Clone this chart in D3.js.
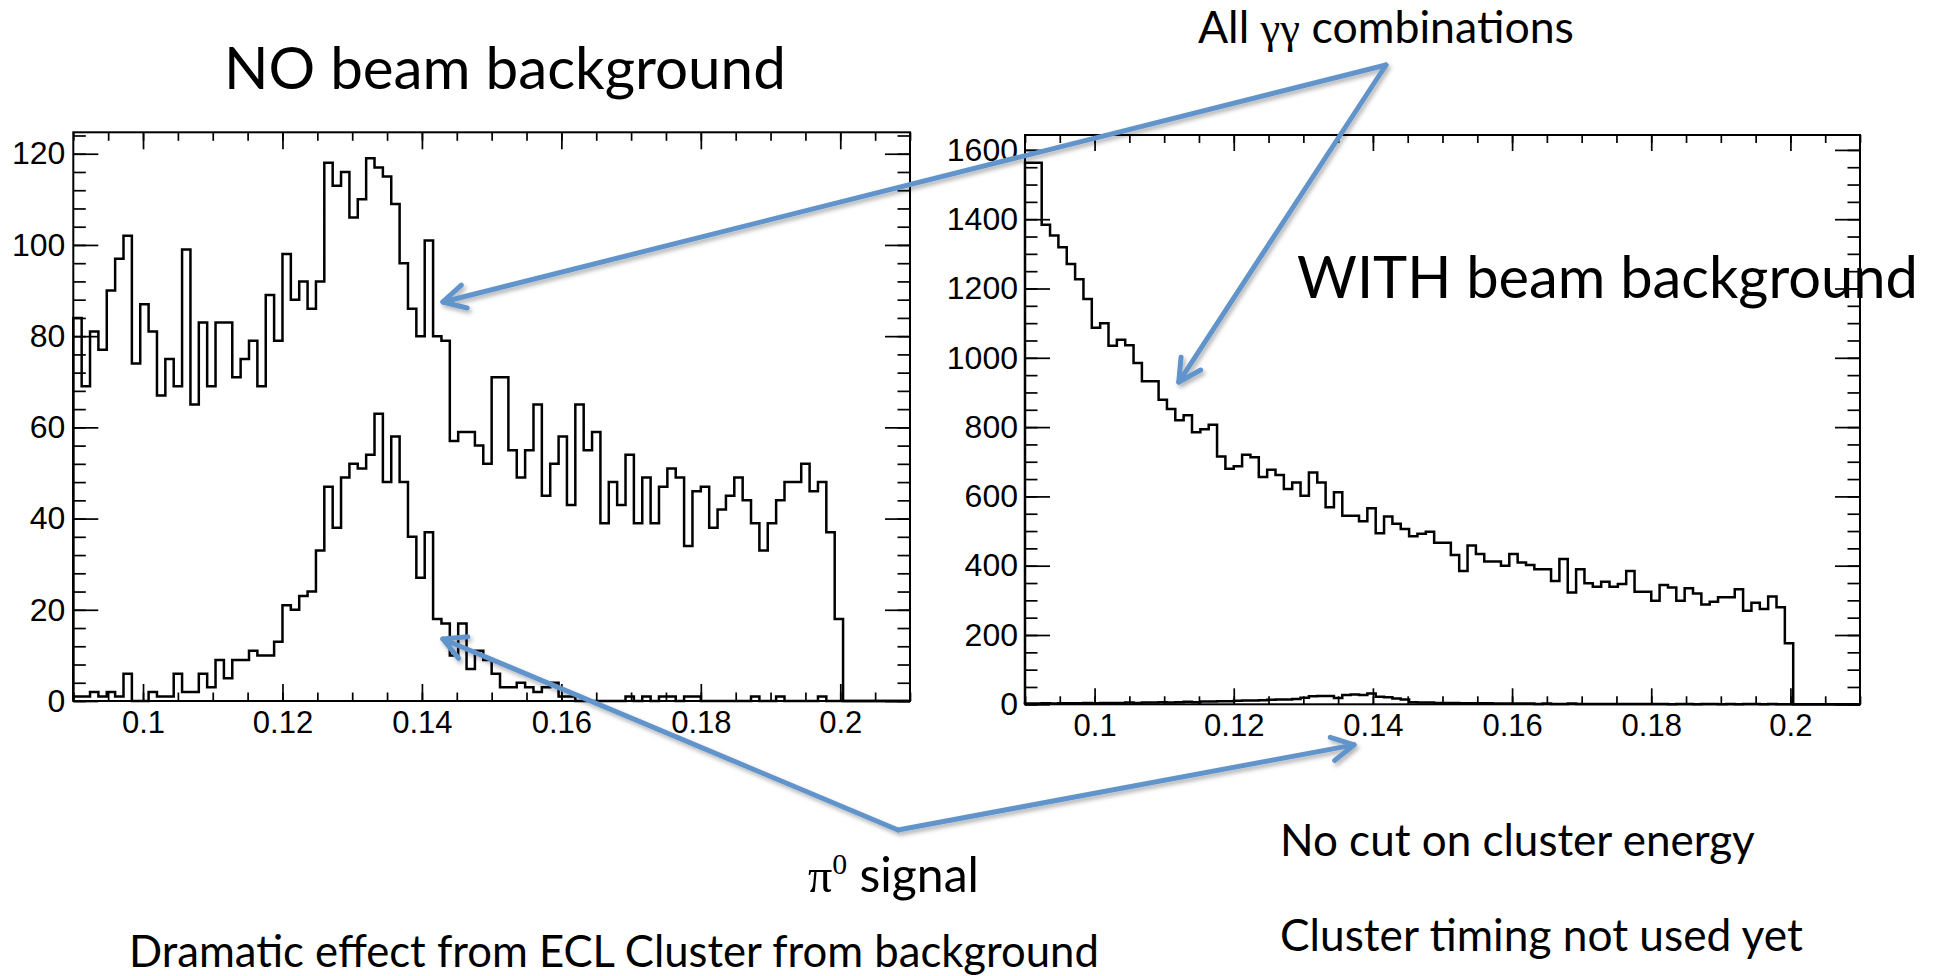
<!DOCTYPE html>
<html>
<head>
<meta charset="utf-8">
<script src="https://cdn.jsdelivr.net/npm/d3@7"></script>
<style>
  html, body { margin: 0; padding: 0; background: #fff; }
  svg { display: block; }
</style>
</head>
<body>
<svg id="chart" width="1943" height="976"></svg>
<script>
// histogram binning: 100 bins over 0.09 - 0.21 (only the first 92 are filled)
var histLow = 0.09;
var histHigh = 0.21;
var nBins = 100;

// NO beam background, all gamma-gamma combinations
var noBgAll = [84, 69, 81, 77, 90, 97, 102, 74, 87, 81,
    67, 75, 69, 99, 65, 83, 69, 83, 83, 71,
    75, 79, 69, 89, 79, 98, 88, 92, 86, 92,
    118, 113, 116, 106, 110, 119, 117, 115, 109, 96,
    86, 80, 101, 80, 79, 57, 59, 59, 56, 52,
    71, 71, 55, 49, 55, 65, 45, 52, 58, 43,
    65, 55, 59, 39, 48, 43, 54, 39, 49, 39,
    47, 51, 49, 34, 46, 47, 38, 42, 45, 49,
    44, 39, 33, 39, 44, 48, 48, 52, 46, 48,
    37, 18];
// NO beam background, pi0 signal
var noBgSignal = [1, 1, 2, 1, 2, 1, 6, 0, 0, 2,
    1, 1, 6, 2, 2, 6, 3, 9, 5, 9,
    9, 11, 10, 10, 13, 21, 20, 23, 24, 33,
    47, 38, 49, 52, 51, 54, 63, 48, 58, 48,
    36, 27, 37, 18, 17, 10, 17, 7, 11, 9,
    6, 3, 3, 4, 3, 2, 3, 4, 1, 1,
    0, 0, 0, 0, 0, 0, 1, 0, 1, 0,
    1, 1, 0, 1, 1, 0, 0, 0, 0, 0,
    0, 1, 0, 0, 1, 0, 0, 0, 0, 1,
    0, 0];
// WITH beam background, all gamma-gamma combinations
var withBgAll = [1563, 1563, 1384, 1353, 1319, 1271, 1227, 1170, 1087, 1100,
    1035, 1052, 1036, 985, 932, 932, 879, 852, 820, 834,
    785, 794, 807, 715, 680, 687, 720, 713, 656, 677,
    662, 621, 640, 602, 669, 640, 569, 612, 544, 544,
    528, 566, 494, 542, 521, 506, 485, 492, 498, 466,
    466, 431, 385, 458, 434, 412, 412, 400, 434, 409,
    402, 390, 390, 356, 419, 323, 390, 349, 339, 354,
    339, 347, 385, 325, 325, 299, 344, 337, 299, 335,
    320, 288, 296, 309, 309, 332, 270, 293, 275, 311,
    280, 176];
// WITH beam background, pi0 signal
var withBgSignal = [2, 2, 3, 2, 3, 3, 3, 4, 3, 4,
    4, 4, 5, 4, 5, 5, 6, 5, 6, 7,
    6, 8, 8, 9, 9, 10, 11, 11, 12, 13,
    14, 14, 15, 19, 23, 24, 24, 18, 27, 28,
    27, 31, 22, 20, 17, 14, 6, 5, 5, 4,
    4, 4, 3, 3, 3, 3, 2, 2, 2, 2,
    2, 1, 2, 1, 1, 2, 1, 1, 1, 1,
    1, 1, 1, 1, 1, 1, 1, 0, 1, 1,
    0, 1, 1, 0, 1, 0, 1, 1, 0, 1,
    0, 0];

var xTickValues = [0.1, 0.12, 0.14, 0.16, 0.18, 0.2];
var leftYTicks = [0, 20, 40, 60, 80, 100, 120];
var rightYTicks = [0, 200, 400, 600, 800, 1000, 1200, 1400, 1600];

var svg = d3.select('#chart');
var arrowColor = '#6294cc';
var tickFont = '"Liberation Sans", Arial, Helvetica, sans-serif';
var textFont = 'Lato, "Open Sans", sans-serif';
var greekFont = '"Liberation Serif", "DejaVu Serif", serif';

var defs = svg.append('defs');
var shadow = defs.append('filter')
    .attr('id', 'arrowShadow')
    .attr('filterUnits', 'userSpaceOnUse')
    .attr('x', 0).attr('y', 0).attr('width', 1943).attr('height', 976);
shadow.append('feDropShadow')
    .attr('dx', 2).attr('dy', 3)
    .attr('stdDeviation', 2)
    .attr('flood-color', '#000')
    .attr('flood-opacity', 0.3);

function histPoints(values) {
    var w = (histHigh - histLow) / nBins;
    var pts = [[histLow, 0]];
    for (var i = 0; i < nBins; i++) {
        var v = i < values.length ? values[i] : 0;
        pts.push([histLow + i * w, v]);
        pts.push([histLow + (i + 1) * w, v]);
    }
    pts.push([histHigh, 0]);
    return pts;
}

function styleAxis(sel, fontSize) {
    sel.select('.domain').remove();
    sel.attr('font-family', tickFont).attr('font-size', fontSize);
    sel.selectAll('line').attr('stroke', '#000').attr('stroke-width', 1.7);
    sel.selectAll('text').attr('fill', '#000');
}

function drawPanel(cfg) {
    var g = svg.append('g').attr('class', cfg.name);
    var x = d3.scaleLinear().domain([histLow, histHigh]).range([cfg.left, cfg.right]);
    var y = d3.scaleLinear().domain([0, cfg.yMax]).range([cfg.bottom, cfg.top]);

    var xMinor = d3.range(0, 25).map(function (i) { return +(histLow + i * 0.005).toFixed(3); });
    var yMinor = d3.range(0, cfg.yMax, cfg.yMinorStep);

    // minor ticks on all four sides
    g.append('g').attr('transform', 'translate(0,' + cfg.bottom + ')')
        .call(d3.axisBottom(x).tickValues(xMinor).tickSize(-cfg.xTickLen / 2).tickSizeOuter(0).tickFormat(''))
        .call(styleAxis, 10);
    g.append('g').attr('transform', 'translate(0,' + cfg.top + ')')
        .call(d3.axisTop(x).tickValues(xMinor).tickSize(-cfg.xTickLen / 2).tickSizeOuter(0).tickFormat(''))
        .call(styleAxis, 10);
    g.append('g').attr('transform', 'translate(' + cfg.left + ',0)')
        .call(d3.axisLeft(y).tickValues(yMinor).tickSize(-cfg.yTickLen / 2).tickSizeOuter(0).tickFormat(''))
        .call(styleAxis, 10);
    g.append('g').attr('transform', 'translate(' + cfg.right + ',0)')
        .call(d3.axisRight(y).tickValues(yMinor).tickSize(-cfg.yTickLen / 2).tickSizeOuter(0).tickFormat(''))
        .call(styleAxis, 10);

    // major ticks + labels
    g.append('g').attr('transform', 'translate(0,' + cfg.bottom + ')')
        .call(d3.axisBottom(x).tickValues(xTickValues).tickSize(-cfg.xTickLen).tickSizeOuter(0)
            .tickPadding(cfg.xPad).tickFormat(d3.format('~g')))
        .call(styleAxis, cfg.xFont);
    g.append('g').attr('transform', 'translate(0,' + cfg.top + ')')
        .call(d3.axisTop(x).tickValues(xTickValues).tickSize(-cfg.xTickLen).tickSizeOuter(0).tickFormat(''))
        .call(styleAxis, 10);
    g.append('g').attr('transform', 'translate(' + cfg.left + ',0)')
        .call(d3.axisLeft(y).tickValues(cfg.yTicks).tickSize(-cfg.yTickLen).tickSizeOuter(0)
            .tickPadding(cfg.yPad).tickFormat(d3.format('d')))
        .call(styleAxis, cfg.yFont);
    g.append('g').attr('transform', 'translate(' + cfg.right + ',0)')
        .call(d3.axisRight(y).tickValues(cfg.yTicks).tickSize(-cfg.yTickLen).tickSizeOuter(0).tickFormat(''))
        .call(styleAxis, 10);

    var line = d3.line()
        .x(function (d) { return x(d[0]); })
        .y(function (d) { return y(d[1]); });

    cfg.series.forEach(function (values) {
        g.append('path')
            .attr('d', line(histPoints(values)))
            .attr('fill', 'none')
            .attr('stroke', '#000')
            .attr('stroke-width', 2.5);
    });

    g.append('rect')
        .attr('x', cfg.left).attr('y', cfg.top)
        .attr('width', cfg.right - cfg.left)
        .attr('height', cfg.bottom - cfg.top)
        .attr('fill', 'none')
        .attr('stroke', '#000')
        .attr('stroke-width', 2);

    return {x: x, y: y};
}

var leftPanel = drawPanel({
    name: 'noBackground',
    left: 73.3, right: 910, top: 132.3, bottom: 701,
    yMax: 124.7, yTicks: leftYTicks, yMinorStep: 4,
    yTickLen: 25, xTickLen: 17,
    xPad: 10, yPad: 8, xFont: 31, yFont: 32,
    series: [noBgAll, noBgSignal]
});

var rightPanel = drawPanel({
    name: 'withBackground',
    left: 1025, right: 1860, top: 135, bottom: 704.3,
    yMax: 1643, yTicks: rightYTicks, yMinorStep: 50,
    yTickLen: 25, xTickLen: 16,
    xPad: 10, yPad: 7, xFont: 31, yFont: 32,
    series: [withBgAll, withBgSignal]
});

// slide texts, font size fitted so the line spans the given width
function sizeParts(t, parts, fs) {
    t.attr('font-size', fs);
    t.selectAll('tspan').each(function (d, i) {
        var p = parts[i];
        var s = d3.select(this);
        if (p.greek) s.attr('font-family', greekFont);
        if (p.sup) s.attr('font-size', fs * 0.62).attr('dy', -fs * 0.38);
        if (p.down) s.attr('dy', fs * 0.38);
    });
}

function addText(parts, x, y, width, size) {
    var t = svg.append('text')
        .attr('x', x).attr('y', y)
        .attr('font-family', textFont)
        .attr('fill', '#000');
    parts.forEach(function (p) {
        t.append('tspan').text(p.text);
    });
    sizeParts(t, parts, size);
    var w = t.node().getComputedTextLength();
    sizeParts(t, parts, size * width / w);
    return t;
}

addText([{text: 'NO beam background'}], 224, 89, 562, 56);
addText([{text: 'WITH beam background'}], 1297, 298, 621, 56);
addText([{text: 'All '}, {text: 'γγ', greek: true}, {text: ' combinations'}], 1198, 43, 376, 36);
addText([{text: 'π', greek: true}, {text: '0', greek: true, sup: true}, {text: ' signal', down: true}], 808, 892, 171, 40);
addText([{text: 'No cut on cluster energy'}], 1280, 856, 475, 40);
addText([{text: 'Cluster timing not used yet'}], 1280, 951, 523, 40);
addText([{text: 'Dramatic effect from ECL Cluster from background'}], 129, 967, 970, 40);

// arrows: start in page space, tip in the data space of a panel
var arrowSpecs = [
    {from: [1386, 65], panel: leftPanel, at: [0.143, 87.5]},
    {from: [1386, 65], panel: rightPanel, at: [0.1121, 930]},
    {from: [898, 830], panel: leftPanel, at: [0.143, 13.6]},
    {from: [898, 830], panel: rightPanel, at: [0.1373, -117]}
];

var arrowLayer = svg.append('g')
    .attr('filter', 'url(#arrowShadow)')
    .attr('stroke', arrowColor)
    .attr('stroke-width', 5)
    .attr('stroke-linecap', 'round')
    .attr('stroke-linejoin', 'round')
    .attr('fill', 'none');

arrowSpecs.forEach(function (a) {
    var tx = a.panel.x(a.at[0]);
    var ty = a.panel.y(a.at[1]);
    var ang = Math.atan2(a.from[1] - ty, a.from[0] - tx);
    var len = 25, spread = 28 * Math.PI / 180;
    arrowLayer.append('line')
        .attr('x1', a.from[0]).attr('y1', a.from[1])
        .attr('x2', tx).attr('y2', ty);
    var p1 = [tx + len * Math.cos(ang - spread), ty + len * Math.sin(ang - spread)];
    var p2 = [tx + len * Math.cos(ang + spread), ty + len * Math.sin(ang + spread)];
    arrowLayer.append('path')
        .attr('d', 'M' + p1[0] + ',' + p1[1] + 'L' + tx + ',' + ty + 'L' + p2[0] + ',' + p2[1]);
});
</script>
</body>
</html>
